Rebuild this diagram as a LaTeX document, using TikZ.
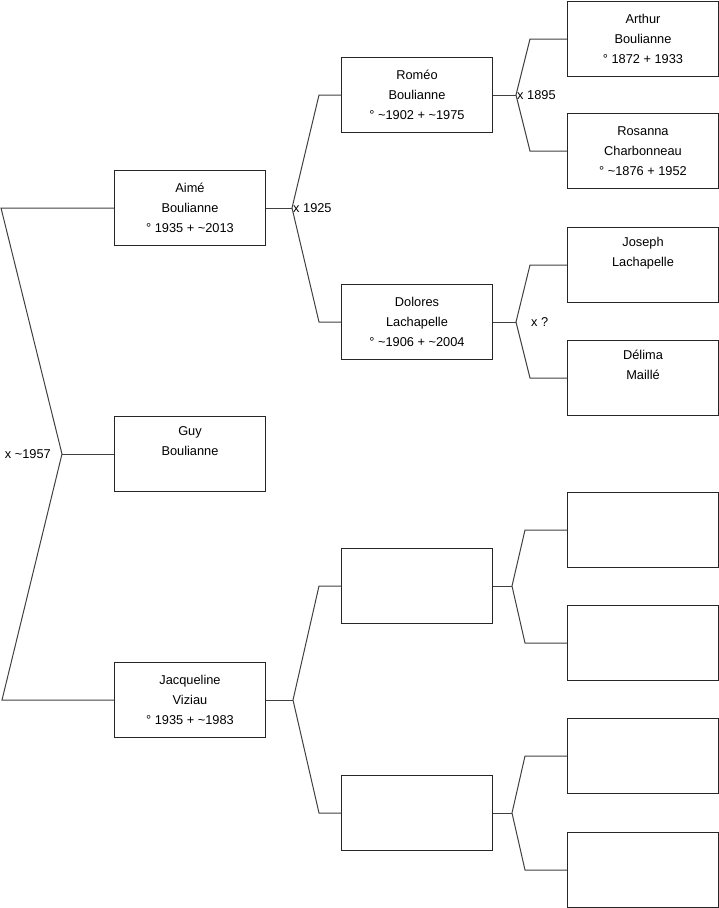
\documentclass[tikz,border=0pt]{standalone}
\usepackage{fontspec}
\setmainfont{Liberation Sans}
\begin{document}
\begin{tikzpicture}[x=1pt, y=-1pt,
	person/.style={draw=black!85, line width=1pt, minimum width=151pt, minimum height=75pt,
		inner sep=0pt, anchor=north west, align=center, font=\fontsize{12.8}{20}\selectfont},
	branch/.style={draw=black!75, line width=1pt},
	union/.style={inner sep=1pt, font=\fontsize{12.8}{15}\selectfont}]
	
	\useasboundingbox (0,0) rectangle (719,908);
	
	% Generation 1
	\node[person] (aime) at (114,170) {Aimé\\Boulianne\\° 1935 + \textasciitilde2013};
	\node[person] (guy) at (114,416) {Guy\\Boulianne\\\strut};
	\node[person] (jacq) at (114,662) {Jacqueline\\Viziau\\° 1935 + \textasciitilde1983};
	
	% Generation 2
	\node[person] (romeo) at (341,57) {Roméo\\Boulianne\\° \textasciitilde1902 + \textasciitilde1975};
	\node[person] (dolores) at (341,284) {Dolores\\Lachapelle\\° \textasciitilde1906 + \textasciitilde2004};
	\node[person] (pj) at (341,548) {};
	\node[person] (mj) at (341,775) {};
	
	% Generation 3
	\node[person] (arthur) at (567,1) {Arthur\\Boulianne\\° 1872 + 1933};
	\node[person] (rosanna) at (567,113) {Rosanna\\Charbonneau\\° \textasciitilde1876 + 1952};
	\node[person] (joseph) at (567,227) {Joseph\\Lachapelle\\\strut};
	\node[person] (delima) at (567,340) {Délima\\Maillé\\\strut};
	\node[person] (ppj) at (567,492) {};
	\node[person] (mpj) at (567,605) {};
	\node[person] (pmj) at (567,718) {};
	\node[person] (mmj) at (567,832) {};
	
	% Union points
	\coordinate (u0) at ([xshift=-52pt]guy.west);
	\coordinate (u1) at ([xshift=26pt]aime.east);
	\coordinate (u2) at ([xshift=27pt]jacq.east);
	\coordinate (u3) at ([xshift=23pt]romeo.east);
	\coordinate (u4) at ([xshift=23pt]dolores.east);
	\coordinate (u5) at ([xshift=19pt]pj.east);
	\coordinate (u6) at ([xshift=19pt]mj.east);
	
	% Brackets
	\draw[branch] (guy.west) -- (u0);
	\draw[branch] (aime.west) -- ++(-113,0) -- (u0) -- ([xshift=-112pt]jacq.west) -- (jacq.west);
	
	\draw[branch] (aime.east) -- (u1);
	\draw[branch] (romeo.west) -- ++(-22,0) -- (u1) -- ([xshift=-22pt]dolores.west) -- (dolores.west);
	\draw[branch] (jacq.east) -- (u2);
	\draw[branch] (pj.west) -- ++(-22,0) -- (u2) -- ([xshift=-22pt]mj.west) -- (mj.west);
	
	\draw[branch] (romeo.east) -- (u3);
	\draw[branch] (arthur.west) -- ++(-37,0) -- (u3) -- ([xshift=-37pt]rosanna.west) -- (rosanna.west);
	\draw[branch] (dolores.east) -- (u4);
	\draw[branch] (joseph.west) -- ++(-37,0) -- (u4) -- ([xshift=-37pt]delima.west) -- (delima.west);
	\draw[branch] (pj.east) -- (u5);
	\draw[branch] (ppj.west) -- ++(-42,0) -- (u5) -- ([xshift=-42pt]mpj.west) -- (mpj.west);
	\draw[branch] (mj.east) -- (u6);
	\draw[branch] (pmj.west) -- ++(-42,0) -- (u6) -- ([xshift=-42pt]mmj.west) -- (mmj.west);
	
	% Labels
	\node[union, anchor=east, xshift=-10pt] (l0) at (u0) {x \textasciitilde1957};
	\node[union, anchor=west] (l1) at (u1) {x 1925};
	\node[union, anchor=west] (l3) at (u3) {x 1895};
	\node[union, anchor=west, xshift=14pt] (l4) at (u4) {x ?};
	
\end{tikzpicture}
\end{document}
